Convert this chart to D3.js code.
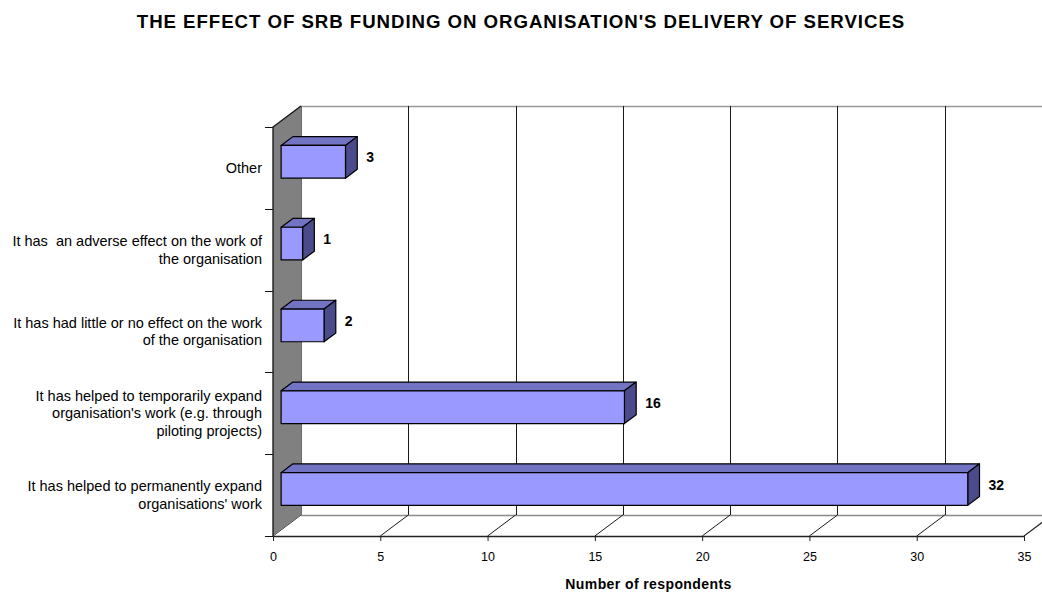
<!DOCTYPE html>
<html>
<head>
<meta charset="utf-8">
<script src="https://cdn.jsdelivr.net/npm/d3@7"></script>
<style>
  html, body { margin: 0; padding: 0; background: #ffffff; }
  svg { display: block; font-family: "Liberation Sans", Arial, sans-serif; }
  text { white-space: pre; }
</style>
</head>
<body>
<svg id="chart" width="1042" height="592"></svg>
<script>
// Survey responses, listed top to bottom as drawn
const categories = [
  "Other",
  "It has  an adverse effect on the work of\nthe organisation",
  "It has had little or no effect on the work\nof the organisation",
  "It has helped to temporarily expand\norganisation's work (e.g. through\npiloting projects)",
  "It has helped to permanently expand\norganisations' work"
];
const values = [3, 1, 2, 16, 32];
const xTicks = [0, 5, 10, 15, 20, 25, 30, 35];
const titleText = "THE EFFECT OF SRB FUNDING ON ORGANISATION'S DELIVERY OF SERVICES";
const xTitleText = "Number of respondents";

const svg = d3.select("#chart");

// Front plane of the 3-D box
const pLeft = 273, pRight = 1024, pTop = 127, pBottom = 536;
// Depth offset of the back wall
const DX = 28, DY = -21;
// Bars occupy the middle slice of the depth
const f0 = 0.29, f1 = 0.71;

const x = d3.scaleLinear().domain([0, 35]).range([pLeft, pRight]);
const y = d3.scaleBand().domain(categories).range([pTop, pBottom]).padding(0);
const barH = y.bandwidth() * 0.40;

const grey = "#808080";

// Back wall
svg.append("rect")
  .attr("x", pLeft + DX).attr("y", pTop + DY)
  .attr("width", 1042 - (pLeft + DX) + 20).attr("height", pBottom - pTop)
  .attr("fill", "#ffffff");
svg.append("line")
  .attr("x1", pLeft + DX).attr("x2", 1042 + 20)
  .attr("y1", pTop + DY + 0.5).attr("y2", pTop + DY + 0.5)
  .attr("stroke", "#999999").attr("stroke-width", 1.5);

// Floor
svg.append("path")
  .attr("d", `M${pLeft},${pBottom}L${pLeft + DX},${pBottom + DY}L${pRight + DX},${pBottom + DY}L${pRight},${pBottom}Z`)
  .attr("fill", "#ffffff").attr("stroke", "none");
svg.append("line")
  .attr("x1", pLeft + DX).attr("x2", pRight + DX)
  .attr("y1", pBottom + DY + 0.5).attr("y2", pBottom + DY + 0.5)
  .attr("stroke", "#8a8a8a").attr("stroke-width", 1.5);
svg.append("line")
  .attr("x1", pRight).attr("y1", pBottom)
  .attr("x2", pRight + DX).attr("y2", pBottom + DY)
  .attr("stroke", "#8a8a8a").attr("stroke-width", 1.5);

// Gridlines on the back wall and their diagonals across the floor
const grid = svg.append("g");
grid.selectAll("line.v")
  .data(xTicks.filter(t => t > 0))
  .join("line")
  .attr("class", "v")
  .attr("x1", d => Math.round(x(d) + DX) + 0.5).attr("x2", d => Math.round(x(d) + DX) + 0.5)
  .attr("y1", pTop + DY).attr("y2", pBottom + DY)
  .attr("stroke", "#1a1a1a").attr("stroke-width", 1);
grid.selectAll("line.d")
  .data(xTicks)
  .join("line")
  .attr("class", "d")
  .attr("x1", d => x(d)).attr("y1", pBottom)
  .attr("x2", d => x(d) + DX).attr("y2", pBottom + DY)
  .attr("stroke", "#1a1a1a").attr("stroke-width", 1);

// Left side wall
svg.append("path")
  .attr("d", `M${pLeft},${pTop}L${pLeft + DX},${pTop + DY}L${pLeft + DX},${pBottom + DY}L${pLeft},${pBottom}Z`)
  .attr("fill", grey).attr("stroke", "none");
svg.append("line")
  .attr("x1", pLeft + DX + 0.5).attr("x2", pLeft + DX + 0.5)
  .attr("y1", pTop + DY).attr("y2", pBottom + DY)
  .attr("stroke", "#6a6a6a").attr("stroke-width", 1);
svg.append("path")
  .attr("d", `M${pLeft},${pBottom}L${pLeft},${pTop}L${pLeft + DX},${pTop + DY}`)
  .attr("fill", "none").attr("stroke", "#111111").attr("stroke-width", 1.3);

// Bottom value axis along the front edge of the floor
const xAxis = d3.axisBottom(x).tickValues(xTicks).tickSize(5).tickPadding(11).tickSizeOuter(0);
const gx = svg.append("g").attr("transform", `translate(0,${pBottom})`).call(xAxis);
gx.select(".domain").attr("stroke", "#222222").attr("stroke-width", 1.3);
gx.selectAll(".tick line").attr("stroke", "#222222");
gx.selectAll(".tick text")
  .attr("font-family", "'Liberation Sans', Arial, sans-serif")
  .attr("font-size", 12.5).attr("fill", "#000000");

// Category ticks on the front edge of the side wall (band boundaries)
const bounds = categories.map(c => y(c)).concat([y(categories[categories.length - 1]) + y.bandwidth()]);
svg.selectAll("line.ytick")
  .data(bounds)
  .join("line")
  .attr("class", "ytick")
  .attr("x1", pLeft - 8).attr("x2", pLeft)
  .attr("y1", d => Math.round(d) + 0.5).attr("y2", d => Math.round(d) + 0.5)
  .attr("stroke", "#111111").attr("stroke-width", 1);

// Category labels, multi-line, centred on each band
const lineH = 17.5;
const catG = svg.append("g");
categories.forEach(c => {
  const lines = c.split("\n");
  const cy = y(c) + y.bandwidth() / 2;
  lines.forEach((ln, i) => {
    catG.append("text")
      .attr("x", pLeft - 11)
      .attr("y", cy + (i - (lines.length - 1) / 2) * lineH)
      .attr("dy", "0.35em")
      .attr("text-anchor", "end")
      .attr("font-size", 14.5)
      .attr("fill", "#000000")
      .text(ln);
  });
});

// 3-D bars
const bdx = (f1 - f0) * DX, bdy = (f1 - f0) * DY;
const bars = svg.append("g");
categories.forEach((c, i) => {
  const v = values[i];
  const x0 = x(0) + f0 * DX, x1 = x(v) + f0 * DX;
  const cy = y(c) + y.bandwidth() / 2 + f0 * DY;
  const yT = cy - barH / 2, yB = cy + barH / 2;
  const g = bars.append("g")
    .attr("stroke", "#000000").attr("stroke-width", 1.2).attr("stroke-linejoin", "round");
  // top face
  g.append("path")
    .attr("d", `M${x0},${yT}L${x0 + bdx},${yT + bdy}L${x1 + bdx},${yT + bdy}L${x1},${yT}Z`)
    .attr("fill", "#7373C4");
  // side face
  g.append("path")
    .attr("d", `M${x1},${yT}L${x1 + bdx},${yT + bdy}L${x1 + bdx},${yB + bdy}L${x1},${yB}Z`)
    .attr("fill", "#4B4B8C");
  // front face
  g.append("rect")
    .attr("x", x0).attr("y", yT).attr("width", x1 - x0).attr("height", barH)
    .attr("fill", "#9999FF");
  // value label
  svg.append("text")
    .attr("x", x(v) + f1 * DX + 9)
    .attr("y", y(c) + y.bandwidth() / 2 + 0.5 * DY)
    .attr("dy", "0.35em")
    .attr("font-size", 14).attr("font-weight", "bold")
    .attr("fill", "#000000")
    .text(v);
});

// Titles
svg.append("text")
  .attr("x", 521).attr("y", 28)
  .attr("text-anchor", "middle")
  .attr("font-size", 18.67).attr("font-weight", "bold")
  .attr("letter-spacing", "0.95px")
  .attr("fill", "#000000")
  .text(titleText);

svg.append("text")
  .attr("x", (pLeft + pRight) / 2).attr("y", 589)
  .attr("text-anchor", "middle")
  .attr("font-size", 14).attr("font-weight", "bold")
  .attr("letter-spacing", "0.4px")
  .attr("fill", "#000000")
  .text(xTitleText);
</script>
</body>
</html>
